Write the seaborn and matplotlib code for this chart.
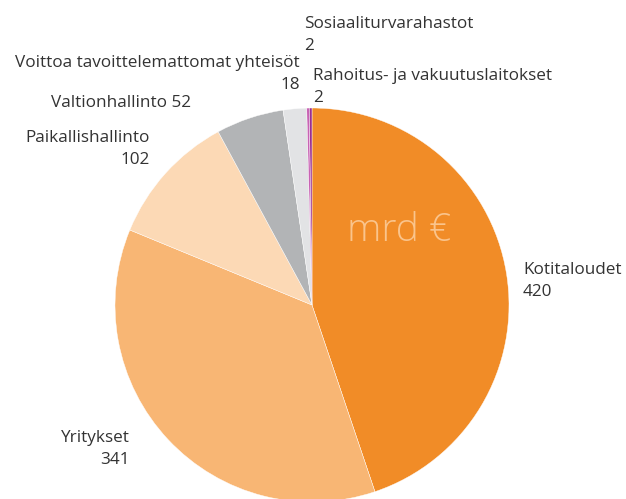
import matplotlib
matplotlib.use("Agg")
import matplotlib.pyplot as plt
import seaborn as sns

categories = ["Kotitaloudet", "Yritykset", "Paikallishallinto", "Valtionhallinto",
              "Voittoa tavoittelemattomat yhteisöt", "Sosiaaliturvarahastot",
              "Rahoitus- ja vakuutuslaitokset"]
values = [420, 341, 102, 52, 18, 2, 2]
colors = ["#F18C27", "#F8B674", "#FCD9B5", "#B2B4B6", "#E2E3E5", "#C863B4", "#9A2E8E"]

sns.set_theme(style="white")
plt.rcParams['font.family'] = ['Open Sans', 'DejaVu Sans']

W, H = 626, 499
fig = plt.figure(figsize=(W / 100, H / 100), dpi=100)
cx, cy, r = 312, 305, 197
ax = fig.add_axes([(cx - r) / W, (H - cy - r) / H, 2 * r / W, 2 * r / H])
ax.pie(values, colors=sns.color_palette(colors), startangle=90, counterclock=False,
       radius=1, wedgeprops=dict(linewidth=0.3, edgecolor="white"))
ax.set_xlim(-1, 1)
ax.set_ylim(-1, 1)
ax.set_aspect("equal")
ax.axis("off")
for c in ax.get_children():
    c.set_clip_on(False)

tc = "#333333"
fs = 12.3

def px(x, y):
    return (x - cx) / r, (cy - y) / r

def lab(x, y, s, ha):
    X, Y = px(x, y)
    ax.text(X, Y, s, ha=ha, va="center", fontsize=fs, color=tc, clip_on=False,
            linespacing=1.5)

lab(523, 281, f"{categories[0]}\n{values[0]}", "left")
lab(130, 449, f"{categories[1]}\n{values[1]}", "right")
lab(150, 149, f"{categories[2]}\n{values[2]}", "right")
lab(191, 103, f"{categories[3]} {values[3]}", "right")
lab(300, 74, f"{categories[4]}\n{values[4]}", "right")
lab(304, 35, f"{categories[5]}\n{values[5]}", "left")
lab(313, 87, f"{categories[6]}\n{values[6]}", "left")

X, Y = px(399, 231)
ax.text(X, Y, "mrd €", ha="center", va="center", fontsize=28, color="#FAC48C",
        fontweight="light")

fig.savefig("out.png", dpi=100)
